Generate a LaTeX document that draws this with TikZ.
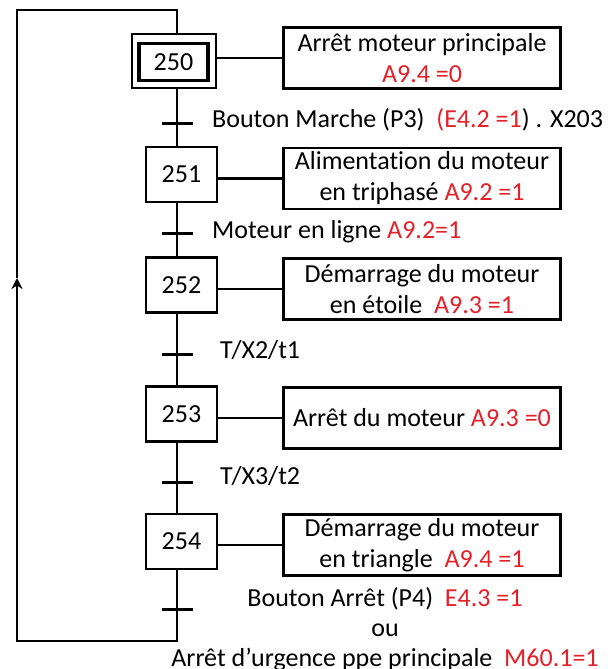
\documentclass[tikz,border=0pt]{standalone}
\usepackage{fontspec}
\setmainfont{Carlito}[Ligatures=NoCommon]
\usetikzlibrary{arrows.meta}
\definecolor{valred}{RGB}{228,32,40}

\begin{document}
\begin{tikzpicture}[x=1pt,y=-1pt,
  every node/.style={font=\fontsize{26}{31}\selectfont},
  stepbox/.style={draw, line width=2.2pt, minimum width=71pt, minimum height=55pt, inner sep=0pt},
  initinner/.style={draw, line width=3.6pt, minimum width=69pt, minimum height=37pt, inner sep=0pt},
  initouter/.style={draw, line width=2pt, minimum width=84pt, minimum height=54pt, inner sep=0pt},
  actbox/.style={draw, line width=2.8pt, minimum width=277pt, minimum height=61pt, inner sep=0pt, align=center},
  link/.style={line width=2.2pt},
  tick/.style={line width=3pt},
  trlabel/.style={anchor=base west, inner sep=0pt},
  outlabel/.style={anchor=base, inner sep=0pt},
]
\useasboundingbox (0,0) rectangle (613,669);

% steps
\node[initouter] (s250o) at (174,61) {};
\node[initinner] (s250) at (173.5,62) {250};
\node[stepbox] (s251) at (181.5,174.5) {251};
\node[stepbox] (s252) at (181.5,285) {252};
\node[stepbox] (s253) at (181.5,414) {253};
\node[stepbox] (s254) at (181.5,541.5) {254};

% actions
\node[actbox] (a250) at (422,58) {Arrêt moteur principale\\\textcolor{valred}{A9.4 =0}};
\node[actbox] (a251) at (422,178.5) {Alimentation du moteur\\en triphasé \textcolor{valred}{A9.2 =1}};
\node[actbox] (a252) at (422,289) {Démarrage du moteur\\en étoile~ \textcolor{valred}{A9.3 =1}};
\node[actbox] (a253) at (422,418) {Arrêt du moteur \textcolor{valred}{A9.3 =0}};
\node[actbox] (a254) at (422,545) {Démarrage du moteur\\en triangle~ \textcolor{valred}{A9.4 =1}};

% guide points of the main line and of the loop back
\coordinate (ln) at (177,0);
\coordinate (top) at (177,10);
\coordinate (tl) at (17,10);
\coordinate (arr) at (17,278);
\coordinate (bl) at (17,641);
\coordinate (br) at (177,641);
\coordinate (t1) at (177,123);
\coordinate (t2) at (177,233);
\coordinate (t3) at (177,354);
\coordinate (t4) at (177,482);
\coordinate (t5) at (177,609);

% main line
\draw[link] (s250o.south -| ln) -- (s251.north -| ln);
\draw[link] (s251.south -| ln) -- (s252.north -| ln);
\draw[link] (s252.south -| ln) -- (s253.north -| ln);
\draw[link] (s253.south -| ln) -- (s254.north -| ln);

% loop back to the initial step
\draw[link, -{Stealth[length=11pt, width=11pt, inset=3.5pt]}] (s254.south -| ln) -- (br) -- (bl) -- (arr);
\draw[link] (arr) -- (tl) -- (top) -- (s250o.north -| ln);

% transitions
\foreach \t in {t1,t2,t3,t4,t5}
  \draw[tick] ([xshift=-15pt]\t) -- ([xshift=16pt]\t);

% step to action links
\draw[link] (a250.west) -- (a250.west -| s250o.east);
\draw[link] (a251.west) -- (a251.west -| s251.east);
\draw[link] (a252.west) -- (a252.west -| s252.east);
\draw[link] (a253.west) -- (a253.west -| s253.east);
\draw[link] (a254.west) -- (a254.west -| s254.east);

% receptivities
\node[trlabel] (l1) at (212,127) {Bouton Marche (P3)~ \textcolor{valred}{(E4.2 =1}) . X203};
\node[trlabel] (l2) at (212,238) {Moteur en ligne \textcolor{valred}{A9.2=1}};
\node[trlabel] (l3) at (220,358) {T/X2/t1};
\node[trlabel] (l4) at (220,484) {T/X3/t2};
\node[outlabel] (l5a) at (385,606) {Bouton Arrêt (P4)~ \textcolor{valred}{E4.3 =1}};
\node[outlabel] (l5b) at (385,636) {ou};
\node[outlabel] (l5c) at (385,666) {Arrêt d’urgence ppe principale~ \textcolor{valred}{M60.1=1}};
\end{tikzpicture}
\end{document}
